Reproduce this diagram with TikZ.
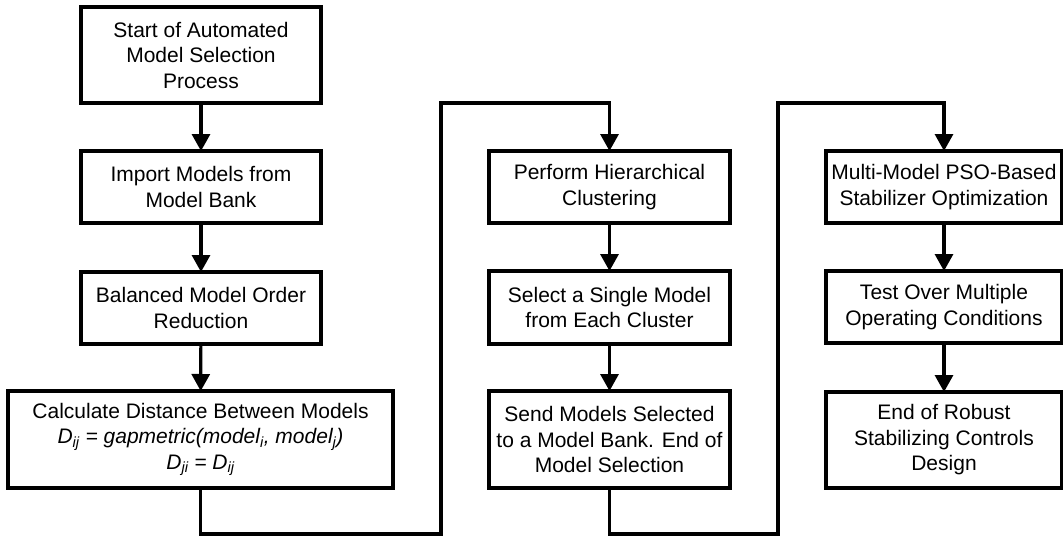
\documentclass[tikz,border=0pt]{standalone}
\usepackage{fontspec}
\setmainfont{Liberation Sans}
\usetikzlibrary{arrows.meta}
\begin{document}
\begin{tikzpicture}[x=1pt,y=-1pt,
  stepbox/.style={draw=black, line width=3.2pt, fill=white, align=center,
    inner sep=0pt, outer sep=0pt,
    font=\fontsize{21pt}{25.5pt}\selectfont},
  flow/.style={line width=3.2pt, -{Triangle[width=18pt,length=17pt]}}]
\useasboundingbox (0,0) rectangle (1063,536);
% left column
\node[stepbox, minimum width=240pt, minimum height=96pt] (n1) at (201,55)
  {Start of Automated\\Model Selection\\Process};
\node[stepbox, minimum width=240pt, minimum height=72pt] (n2) at (201,187)
  {Import Models from\\Model Bank};
\node[stepbox, minimum width=240pt, minimum height=72pt] (n3) at (201,308)
  {Balanced Model Order\\Reduction};
\node[stepbox, minimum width=385pt, minimum height=97pt] (n4) at (200.5,439.5)
  {Calculate Distance Between Models\\
   {\itshape D\textsubscript{ij} = gapmetric(model\textsubscript{i}, model\textsubscript{j})}\\
   {\itshape D\textsubscript{ji} = D\textsubscript{ij}}};
% middle column
\node[stepbox, minimum width=241pt, minimum height=72pt] (m1) at (609.5,187)
  {Perform Hierarchical\\Clustering};
\node[stepbox, minimum width=241pt, minimum height=73pt] (m2) at (609.5,307.5)
  {Select a Single Model\\from Each Cluster};
\node[stepbox, minimum width=241pt, minimum height=97pt] (m3) at (609.5,439.5)
  {Send Models Selected\\to a Model Bank. End of\\Model Selection};
% right column
\node[stepbox, minimum width=236pt, minimum height=72pt] (r1) at (944,187)
  {Multi-Model PSO-Based\\Stabilizer Optimization};
\node[stepbox, minimum width=236pt, minimum height=72pt] (r2) at (944,307)
  {Test Over Multiple\\Operating Conditions};
\node[stepbox, minimum width=236pt, minimum height=96pt] (r3) at (944,440)
  {End of Robust\\Stabilizing Controls\\Design};
% routing points between columns
\coordinate (b1) at (441,534);
\coordinate (t1) at (441,103);
\coordinate (b2) at (778,534);
\coordinate (t2) at (778,103);
% connectors
\draw[flow] (n1) -- (n2);
\draw[flow] (n2) -- (n3);
\draw[flow] (n3) -- (n4);
\draw[flow] (n4.south) |- (b1) -- (t1) -| (m1.north);
\draw[flow] (m1) -- (m2);
\draw[flow] (m2) -- (m3);
\draw[flow] (m3.south) |- (b2) -- (t2) -| (r1.north);
\draw[flow] (r1) -- (r2);
\draw[flow] (r2) -- (r3);
\end{tikzpicture}
\end{document}
